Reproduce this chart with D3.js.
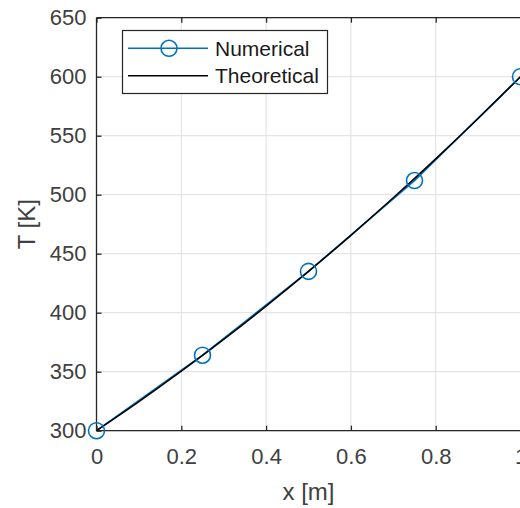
<!DOCTYPE html>
<html>
<head>
<meta charset="utf-8">
<script src="https://d3js.org/d3.v7.min.js"></script>
<style>
  html, body { margin: 0; padding: 0; background: #fff; overflow: hidden; }
  svg { display: block; font-family: "Liberation Sans", Arial, sans-serif; }
</style>
</head>
<body>
<div id="chart"></div>
<script>
// Data
const numX = [0, 0.25, 0.5, 0.75, 1];
const numT = [300, 364, 435, 512, 600];
const theoX = [0, 0.1, 0.2, 0.3, 0.4, 0.5, 0.6, 0.7, 0.8, 0.9, 1];
const theoT = [300, 324.6, 350.4, 377.4, 405.6, 435, 465.6, 497.4, 530.4, 564.6, 600];
const xTicks = [0, 0.2, 0.4, 0.6, 0.8, 1];
const yTicks = [300, 350, 400, 450, 500, 550, 600, 650];
const seriesNames = ['Numerical', 'Theoretical'];

const width = 520, height = 508;
const plot = { left: 96.5, right: 520.5, top: 17.7, bottom: 430.7 };
const axisColor = '#262626';
const blue = '#0072BD';

const svg = d3.select('#chart')
    .append('svg')
    .attr('width', width)
    .attr('height', height);

const x = d3.scaleLinear().domain([0, 1]).range([plot.left, plot.right]);
const y = d3.scaleLinear().domain([300, 650]).range([plot.bottom, plot.top]);

// Grid lines
svg.append('g')
    .selectAll('line.vgrid')
    .data(xTicks)
    .join('line')
    .attr('x1', d => x(d)).attr('x2', d => x(d))
    .attr('y1', plot.top).attr('y2', plot.bottom)
    .attr('stroke', '#dfdfdf')
    .attr('stroke-width', 1);

svg.append('g')
    .selectAll('line.hgrid')
    .data(yTicks)
    .join('line')
    .attr('x1', plot.left).attr('x2', plot.right)
    .attr('y1', d => y(d)).attr('y2', d => y(d))
    .attr('stroke', '#dfdfdf')
    .attr('stroke-width', 1);

// Axes (ticks inward, like MATLAB)
const xAxis = d3.axisBottom(x).tickValues(xTicks).tickSize(-5).tickPadding(18)
    .tickFormat(d => d3.format('~g')(d));
const xAxisTop = d3.axisTop(x).tickValues(xTicks).tickSize(-5).tickFormat('');
const yAxis = d3.axisLeft(y).tickValues(yTicks).tickSize(-5).tickPadding(10);

function styleAxis(g) {
    g.selectAll('path').attr('stroke', axisColor).attr('stroke-width', 1.3);
    g.selectAll('line').attr('stroke', axisColor).attr('stroke-width', 1.3);
    g.selectAll('text')
        .attr('fill', '#404040')
        .style('font-size', '22px')
        .style('font-family', '"Liberation Sans", Arial, sans-serif');
}

svg.append('g')
    .attr('transform', `translate(0,${plot.bottom})`)
    .call(xAxis)
    .call(styleAxis)
    .call(g => g.selectAll('path').attr('d', `M${plot.left},0H${plot.right}`));

svg.append('g')
    .attr('transform', `translate(0,${plot.top})`)
    .call(xAxisTop)
    .call(styleAxis)
    .call(g => g.selectAll('path').attr('d', `M${plot.left},0H${plot.right}`));

svg.append('g')
    .attr('transform', `translate(${plot.left},0)`)
    .call(yAxis)
    .call(styleAxis)
    .call(g => g.selectAll('path').attr('d', `M0,${plot.top}V${plot.bottom}`));

// Axis labels
svg.append('text')
    .attr('x', (plot.left + plot.right) / 2)
    .attr('y', 500)
    .attr('text-anchor', 'middle')
    .attr('fill', '#404040')
    .style('font-size', '24px')
    .text('x [m]');

svg.append('text')
    .attr('transform', `translate(35,${(plot.top + plot.bottom) / 2}) rotate(-90)`)
    .attr('text-anchor', 'middle')
    .attr('fill', '#404040')
    .style('font-size', '24px')
    .text('T [K]');

// Series
const line = d3.line().x(d => x(d[0])).y(d => y(d[1]));
const numData = numX.map((v, i) => [v, numT[i]]);
const theoData = d3.zip(theoX, theoT);

svg.append('path')
    .datum(numData)
    .attr('d', line)
    .attr('fill', 'none')
    .attr('stroke', blue)
    .attr('stroke-width', 1.6);

svg.append('path')
    .datum(theoData)
    .attr('d', d3.line().curve(d3.curveMonotoneX).x(d => x(d[0])).y(d => y(d[1])))
    .attr('fill', 'none')
    .attr('stroke', '#000')
    .attr('stroke-width', 1.6);

svg.append('g')
    .selectAll('circle')
    .data(numData)
    .join('circle')
    .attr('cx', d => x(d[0]))
    .attr('cy', d => y(d[1]))
    .attr('r', 8)
    .attr('fill', 'none')
    .attr('stroke', blue)
    .attr('stroke-width', 1.6);

// Legend
const legend = svg.append('g');
legend.append('rect')
    .attr('x', 122.5).attr('y', 30.5)
    .attr('width', 205).attr('height', 63)
    .attr('fill', '#fff')
    .attr('stroke', axisColor)
    .attr('stroke-width', 1.2);

const legendRows = [48.3, 75.8];
seriesNames.forEach((name, i) => {
    const ly = legendRows[i];
    legend.append('line')
        .attr('x1', 128).attr('x2', 208)
        .attr('y1', ly).attr('y2', ly)
        .attr('stroke', i === 0 ? blue : '#000')
        .attr('stroke-width', 1.6);
    if (i === 0) {
        legend.append('circle')
            .attr('cx', 169).attr('cy', ly).attr('r', 8)
            .attr('fill', 'none')
            .attr('stroke', blue)
            .attr('stroke-width', 1.6);
    }
    legend.append('text')
        .attr('x', 215)
        .attr('y', ly + 7.5)
        .attr('fill', '#1a1a1a')
        .style('font-size', '21px')
        .text(name);
});
</script>
</body>
</html>
